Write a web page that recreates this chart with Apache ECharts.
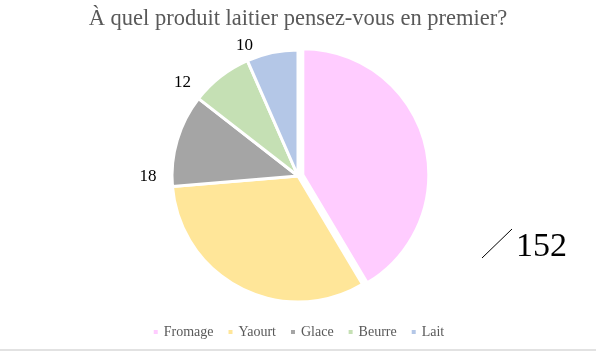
<!DOCTYPE html>
<html><head><meta charset="utf-8">
<script src="https://cdn.jsdelivr.net/npm/echarts@6/dist/echarts.min.js"></script>
<style>html,body{margin:0;padding:0;background:#fff}#c{width:596px;height:362px}</style>
</head><body><div id="c"></div>
<script>
const categories = ['Fromage', 'Yaourt', 'Glace', 'Beurre', 'Lait'];
const values = [63, 49, 18, 12, 10];
const colors = ['#FFCCFF', '#FFE699', '#A5A5A5', '#C5E0B4', '#B4C7E7'];
const shownLabels = [false, false, true, true, true];
const titleText = 'À quel produit laitier pensez-vous en premier?';

const total = values.reduce((a, b) => a + b, 0);
const serif = '"Liberation Serif", "DejaVu Serif", serif';
const labelShift = {2: [-10, 38], 3: [-21, 11], 4: [-13, -1]};
const chart = echarts.init(document.getElementById('c'), null, {renderer: 'canvas'});
chart.setOption({
  animation: false,
  title: {
    text: titleText, left: 'center', top: 3,
    textStyle: {fontFamily: serif, fontSize: 22.5, fontWeight: 'normal', color: '#595959'}
  },
  legend: {
    bottom: 18, left: 'center', icon: 'rect', itemWidth: 6, itemHeight: 6, itemGap: 13,
    textStyle: {fontFamily: serif, fontSize: 14, color: '#595959'},
    data: categories
  },
  graphic: [
    {type: 'line', shape: {x1: 0, y1: 350, x2: 596, y2: 350}, style: {stroke: '#d9d9d9', lineWidth: 1.5}},
    {type: 'line', shape: {x1: 482, y1: 258, x2: 512, y2: 229}, style: {stroke: '#000', lineWidth: 1}},
    {type: 'text', left: 516, top: 230, style: {text: String(total), fontFamily: serif, fontSize: 34, fill: '#000'}}
  ],
  series: [{
    type: 'pie',
    center: [298, 176],
    radius: 126,
    startAngle: 90,
    selectedMode: 'single',
    selectedOffset: 5,
    itemStyle: {borderColor: '#fff', borderWidth: 3},
    label: {position: 'outside', fontFamily: serif, fontSize: 17, color: '#000', formatter: '{c}'},
    labelLine: {show: false, length: 6, length2: 0},
    labelLayout: function (p) {
      const s = labelShift[p.dataIndex];
      return s ? {dx: s[0], dy: s[1]} : {};
    },
    emphasis: {disabled: true},
    data: categories.map((name, i) => ({
      name, value: values[i], selected: i === 0,
      itemStyle: {color: colors[i]},
      label: {show: shownLabels[i]}
    }))
  }]
});
</script></body></html>
